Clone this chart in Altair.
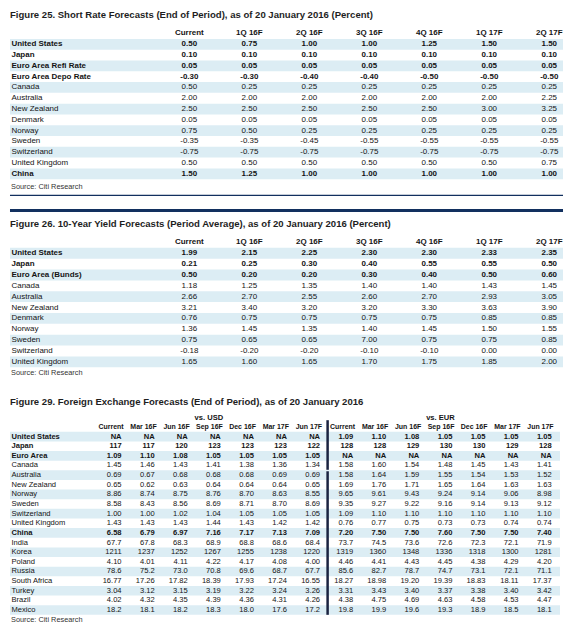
import altair as alt
import pandas as pd

FONT = "Liberation Sans Narrow, Arial Narrow, Liberation Sans, sans-serif"
STRIPE = "#dcedf4"
NAVY = "#12305f"
INK = "#141414"

# ---------------- Figure 25 ----------------
title25 = "Figure 25. Short Rate Forecasts (End of Period), as of 20 January 2016 (Percent)"
periods_q = ["Current", "1Q 16F", "2Q 16F", "3Q 16F", "4Q 16F", "1Q 17F", "2Q 17F"]
countries25 = ["United States", "Japan", "Euro Area Refi Rate", "Euro Area Depo Rate", "Canada",
               "Australia", "New Zealand", "Denmark", "Norway", "Sweden", "Switzerland",
               "United Kingdom", "China"]
bold25 = [True, True, True, True, False, False, False, False, False, False, False, False, True]
us25 = ["0.50", "0.75", "1.00", "1.00", "1.25", "1.50", "1.50"]
jp25 = ["0.10", "0.10", "0.10", "0.10", "0.10", "0.10", "0.10"]
refi25 = ["0.05", "0.05", "0.05", "0.05", "0.05", "0.05", "0.05"]
depo25 = ["-0.30", "-0.30", "-0.40", "-0.40", "-0.50", "-0.50", "-0.50"]
ca25 = ["0.50", "0.25", "0.25", "0.25", "0.25", "0.25", "0.25"]
au25 = ["2.00", "2.00", "2.00", "2.00", "2.00", "2.00", "2.25"]
nz25 = ["2.50", "2.50", "2.50", "2.50", "2.50", "3.00", "3.25"]
dk25 = ["0.05", "0.05", "0.05", "0.05", "0.05", "0.05", "0.05"]
no25 = ["0.75", "0.50", "0.25", "0.25", "0.25", "0.25", "0.25"]
se25 = ["-0.35", "-0.35", "-0.45", "-0.55", "-0.55", "-0.55", "-0.55"]
ch25 = ["-0.75", "-0.75", "-0.75", "-0.75", "-0.75", "-0.75", "-0.75"]
uk25 = ["0.50", "0.50", "0.50", "0.50", "0.50", "0.50", "0.75"]
cn25 = ["1.50", "1.25", "1.00", "1.00", "1.00", "1.00", "1.00"]
values25 = [us25, jp25, refi25, depo25, ca25, au25, nz25, dk25, no25, se25, ch25, uk25, cn25]

# ---------------- Figure 26 ----------------
title26 = "Figure 26. 10-Year Yield Forecasts (Period Average), as of 20 January 2016 (Percent)"
countries26 = ["United States", "Japan", "Euro Area (Bunds)", "Canada", "Australia", "New Zealand",
               "Denmark", "Norway", "Sweden", "Switzerland", "United Kingdom"]
bold26 = [True, True, True, False, False, False, False, False, False, False, False]
us26 = ["1.99", "2.15", "2.25", "2.30", "2.30", "2.33", "2.35"]
jp26 = ["0.21", "0.25", "0.30", "0.40", "0.55", "0.55", "0.50"]
eu26 = ["0.50", "0.20", "0.20", "0.30", "0.40", "0.50", "0.60"]
ca26 = ["1.18", "1.25", "1.35", "1.40", "1.40", "1.43", "1.45"]
au26 = ["2.66", "2.70", "2.55", "2.60", "2.70", "2.93", "3.05"]
nz26 = ["3.21", "3.40", "3.20", "3.20", "3.30", "3.63", "3.90"]
dk26 = ["0.76", "0.75", "0.75", "0.75", "0.75", "0.85", "0.85"]
no26 = ["1.36", "1.45", "1.35", "1.40", "1.45", "1.50", "1.55"]
se26 = ["0.75", "0.65", "0.65", "7.00", "0.75", "0.75", "0.85"]
ch26 = ["-0.18", "-0.20", "-0.20", "-0.10", "-0.10", "0.00", "0.00"]
uk26 = ["1.65", "1.60", "1.65", "1.70", "1.75", "1.85", "2.00"]
values26 = [us26, jp26, eu26, ca26, au26, nz26, dk26, no26, se26, ch26, uk26]

# ---------------- Figure 29 ----------------
title29 = "Figure 29. Foreign Exchange Forecasts (End of Period), as of 20 January 2016"
periods_m = ["Current", "Mar 16F", "Jun 16F", "Sep 16F", "Dec 16F", "Mar 17F", "Jun 17F"]
blocks29 = ["vs. USD", "vs. EUR"]
countries29 = ["United States", "Japan", "Euro Area", "Canada", "Australia", "New Zealand", "Norway",
               "Sweden", "Switzerland", "United Kingdom", "China", "India", "Korea", "Poland",
               "Russia", "South Africa", "Turkey", "Brazil", "Mexico"]
bold29 = [True, True, True, False, False, False, False, False, False, False, True,
          False, False, False, False, False, False, False, False]
usd29 = [
    ["NA", "NA", "NA", "NA", "NA", "NA", "NA"],
    ["117", "117", "120", "123", "123", "123", "122"],
    ["1.09", "1.10", "1.08", "1.05", "1.05", "1.05", "1.05"],
    ["1.45", "1.46", "1.43", "1.41", "1.38", "1.36", "1.34"],
    ["0.69", "0.67", "0.68", "0.68", "0.68", "0.69", "0.69"],
    ["0.65", "0.62", "0.63", "0.64", "0.64", "0.64", "0.65"],
    ["8.86", "8.74", "8.75", "8.76", "8.70", "8.63", "8.55"],
    ["8.58", "8.43", "8.56", "8.69", "8.71", "8.70", "8.69"],
    ["1.00", "1.00", "1.02", "1.04", "1.05", "1.05", "1.05"],
    ["1.43", "1.43", "1.43", "1.44", "1.43", "1.42", "1.42"],
    ["6.58", "6.79", "6.97", "7.16", "7.17", "7.13", "7.09"],
    ["67.7", "67.8", "68.3", "68.9", "68.8", "68.6", "68.4"],
    ["1211", "1237", "1252", "1267", "1255", "1238", "1220"],
    ["4.10", "4.01", "4.11", "4.22", "4.17", "4.08", "4.00"],
    ["78.6", "75.2", "73.0", "70.8", "69.6", "68.7", "67.7"],
    ["16.77", "17.26", "17.82", "18.39", "17.93", "17.24", "16.55"],
    ["3.04", "3.12", "3.15", "3.19", "3.22", "3.24", "3.26"],
    ["4.02", "4.32", "4.35", "4.39", "4.36", "4.31", "4.26"],
    ["18.2", "18.1", "18.2", "18.3", "18.0", "17.6", "17.2"],
]
eur29 = [
    ["1.09", "1.10", "1.08", "1.05", "1.05", "1.05", "1.05"],
    ["128", "128", "129", "130", "130", "129", "128"],
    ["NA", "NA", "NA", "NA", "NA", "NA", "NA"],
    ["1.58", "1.60", "1.54", "1.48", "1.45", "1.43", "1.41"],
    ["1.58", "1.64", "1.59", "1.55", "1.54", "1.53", "1.52"],
    ["1.69", "1.76", "1.71", "1.65", "1.64", "1.63", "1.63"],
    ["9.65", "9.61", "9.43", "9.24", "9.14", "9.06", "8.98"],
    ["9.35", "9.27", "9.22", "9.16", "9.14", "9.13", "9.12"],
    ["1.09", "1.10", "1.10", "1.10", "1.10", "1.10", "1.10"],
    ["0.76", "0.77", "0.75", "0.73", "0.73", "0.74", "0.74"],
    ["7.20", "7.50", "7.50", "7.60", "7.50", "7.50", "7.40"],
    ["73.7", "74.5", "73.6", "72.6", "72.3", "72.1", "71.9"],
    ["1319", "1360", "1348", "1336", "1318", "1300", "1281"],
    ["4.46", "4.41", "4.43", "4.45", "4.38", "4.29", "4.20"],
    ["85.6", "82.7", "78.7", "74.7", "73.1", "72.1", "71.1"],
    ["18.27", "18.98", "19.20", "19.39", "18.83", "18.11", "17.37"],
    ["3.31", "3.43", "3.40", "3.37", "3.38", "3.40", "3.42"],
    ["4.38", "4.75", "4.69", "4.63", "4.58", "4.53", "4.47"],
    ["19.8", "19.9", "19.6", "19.3", "18.9", "18.5", "18.1"],
]
source_text = "Source: Citi Research"

W = 557


def yscale(H, first, pitch):
    return alt.Scale(domain=[-first / pitch, (H - first) / pitch], range=[0, H], zero=False, nice=False)


def one(**kw):
    return pd.DataFrame([kw])


def text_layer(df, scale_x, scale_y, size, bold, align, dx=0, filt=None):
    ch = alt.Chart(df)
    if filt is not None:
        ch = ch.transform_filter(filt)
    return ch.mark_text(font=FONT, fontSize=size, fontWeight="bold" if bold else "normal",
                        align=align, baseline="middle", color=INK, dx=dx).encode(
        x=alt.X("col:Q", scale=scale_x, axis=None),
        y=alt.Y("row:Q", scale=scale_y, axis=None),
        text="v:N")


def stripe_layer(n, x2, scale_y):
    df = pd.DataFrame({"row": list(range(0, n, 2))})
    return alt.Chart(df).transform_calculate(
        y0="datum.row - 0.5", y1="datum.row + 0.5").mark_rect(color=STRIPE).encode(
        x=alt.value(0), x2=alt.value(x2),
        y=alt.Y("y0:Q", scale=scale_y, axis=None), y2="y1:Q")


def label_layer(countries, bolds, size, scale_y):
    df = pd.DataFrame({"row": list(range(len(countries))), "v": countries, "b": bolds})
    out = []
    for b in (True, False):
        out.append(alt.Chart(df).transform_filter(f"datum.b == {str(b).lower()}").mark_text(
            font=FONT, fontSize=size, fontWeight="bold" if b else "normal", align="left",
            baseline="middle", color=INK, dx=1.5).encode(
            x=alt.value(0), y=alt.Y("row:Q", scale=scale_y, axis=None), text="v:N"))
    return out


def fixed_text(txt, x, y, size, bold=False, color=INK, align="left"):
    return alt.Chart(one(t=txt)).mark_text(font=FONT, fontSize=size, fontWeight="bold" if bold else "normal",
                                           align=align, baseline="middle", color=color).encode(
        x=alt.value(x), y=alt.value(y), text="t:N")


def hrule(y, width, color=NAVY, x0=0, x1=555):
    return alt.Chart(one(a=0)).mark_rule(color=color, strokeWidth=width).encode(
        x=alt.value(x0), x2=alt.value(x1), y=alt.value(y))


def quarter_table(title, countries, bolds, values, H, first, pitch, title_y, source_y, extra):
    sy = yscale(H, first, pitch)
    sx = alt.Scale(domain=[0, 6], range=[180, 541.2], zero=False, nice=False)
    rows = []
    for r, vals in enumerate(values):
        for c, v in enumerate(vals):
            rows.append({"row": r, "col": c, "v": v, "b": bolds[r]})
    cells = pd.DataFrame(rows)
    head = pd.DataFrame({"row": [-1] * len(periods_q), "col": list(range(len(periods_q))), "v": periods_q})
    layers = [stripe_layer(len(countries), 555, sy)] + extra
    layers += label_layer(countries, bolds, 8, sy)
    layers.append(text_layer(cells, sx, sy, 8, True, "center", filt="datum.b"))
    layers.append(text_layer(cells, sx, sy, 8, False, "center", filt="!datum.b"))
    layers.append(text_layer(head, sx, sy, 8, True, "center"))
    layers.append(fixed_text(title, 0, title_y, 9.6, bold=True, color="#1e1e1e"))
    layers.append(fixed_text(source_text, 1, source_y, 7.4, color="#333333"))
    return alt.layer(*layers).properties(width=W, height=H)


# Panel A : Figure 25
HA = 196
panelA = quarter_table(title25, countries25, bold25, values25, HA, 35.3, 10.83, 5.5, 179,
                       extra=[hrule(187, 1.2)])

# Panel B : Figure 26
HB = 179
panelB = quarter_table(title26, countries26, bold26, values26, HB, 49, 10.9, 19.5, 169,
                       extra=[hrule(6, 3)])

# Panel C : Figure 29
HC = 244
first29, pitch29 = 54, 9.67
syC = yscale(HC, first29, pitch29)
sxC = alt.Scale(domain=[0, 13], range=[112, 543.6], zero=False, nice=False)
rows = []
for r in range(len(countries29)):
    for c in range(7):
        rows.append({"row": r, "col": c, "v": usd29[r][c], "b": bold29[r]})
        rows.append({"row": r, "col": c + 7, "v": eur29[r][c], "b": bold29[r]})
cellsC = pd.DataFrame(rows)
headC = pd.DataFrame({"row": [-1] * 14, "col": list(range(14)), "v": periods_m + periods_m})
blockC = pd.DataFrame({"row": [-1.95, -1.95], "col": [3, 10], "v": blocks29})

bar_top = pd.DataFrame({"y0": [-1.7], "y1": [3.45]})
bar_bot = pd.DataFrame({"y0": [3.6], "y1": [18.5]})


def vbar(df):
    return alt.Chart(df).mark_rect(color="#1b2340").encode(
        x=alt.value(317.5), x2=alt.value(320),
        y=alt.Y("y0:Q", scale=syC, axis=None), y2="y1:Q")


layersC = [stripe_layer(len(countries29), 552, syC), vbar(bar_top), vbar(bar_bot)]
layersC += label_layer(countries29, bold29, 7.6, syC)
layersC.append(text_layer(cellsC, sxC, syC, 7.6, True, "right", filt="datum.b"))
layersC.append(text_layer(cellsC, sxC, syC, 7.6, False, "right", filt="!datum.b"))
layersC.append(text_layer(headC, sxC, syC, 7.0, True, "right", dx=2))
layersC.append(text_layer(blockC, sxC, syC, 7.6, True, "center", dx=-12))
layersC.append(fixed_text(title29, 0, 19, 9.6, bold=True, color="#1e1e1e"))
layersC.append(fixed_text(source_text, 1, 238, 7.4, color="#333333"))
panelC = alt.layer(*layersC).properties(width=W, height=HC)

chart = alt.vconcat(panelA, panelB, panelC, spacing=0).properties(
    padding=0, background="white"
).configure_view(stroke=None)

chart.save("out.html", embed_options={"renderer": "svg", "actions": False})
